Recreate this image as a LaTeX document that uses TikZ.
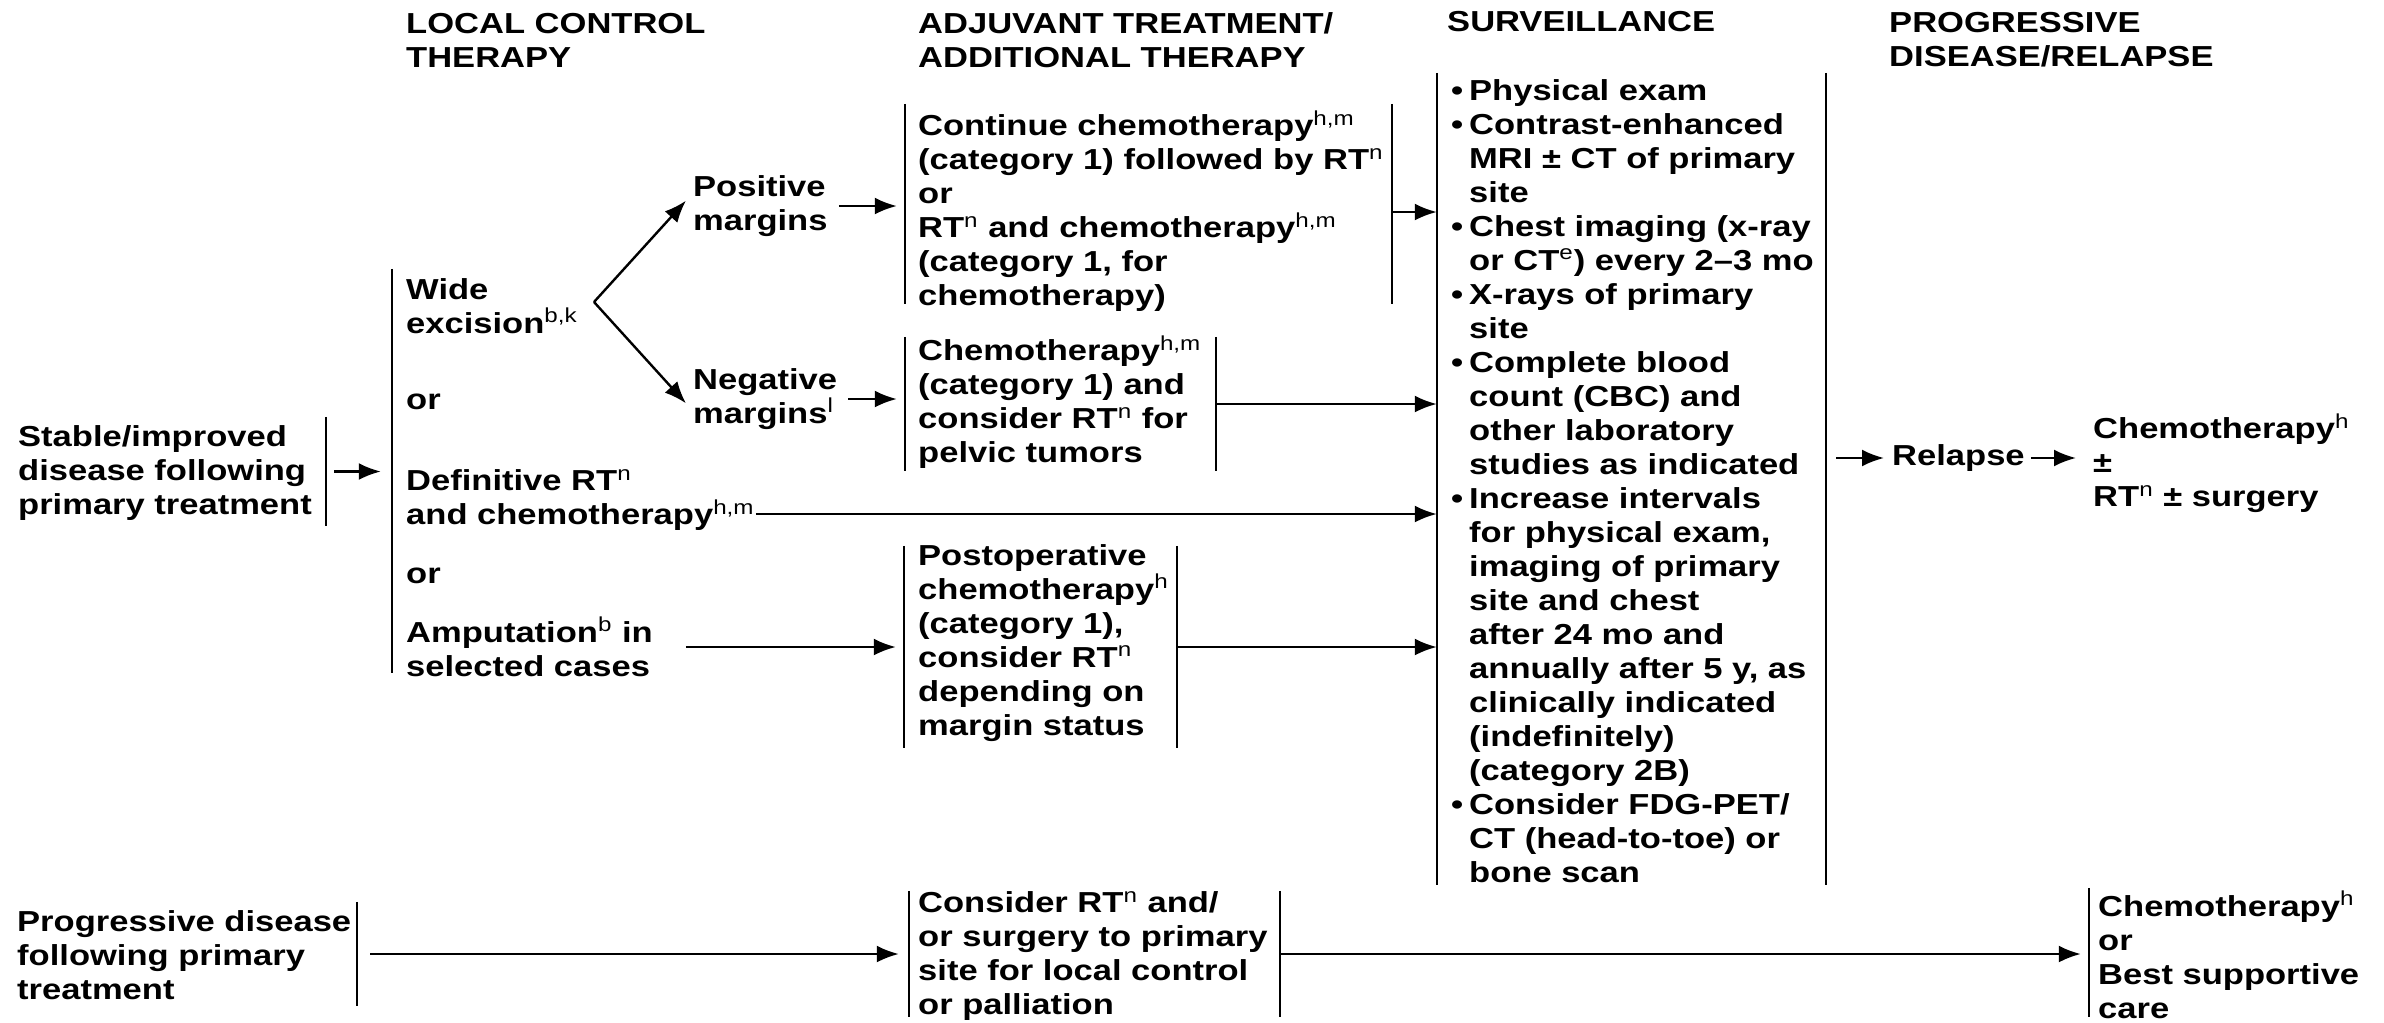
\documentclass[tikz,border=0pt]{standalone}
\usepackage{fontspec}
\setmainfont{Liberation Sans}[FakeStretch=1.195]
\usepackage{tikz}
\usetikzlibrary{arrows.meta}
\newcommand{\sps}[1]{\textsuperscript{\mdseries #1}}
\newcommand{\bul}{\makebox[0pt][r]{\textbullet\hspace{3pt}}}

\begin{document}
\begin{tikzpicture}[x=0.5pt,y=-0.5pt,line width=1.2pt,
	txt/.style={anchor=west,align=left,inner sep=0pt,font=\bfseries\fontsize{14.45pt}{17pt}\selectfont},
	frm/.style={inner sep=0pt,draw=none},
	arr/.style={-{Latex[length=11pt,width=8.5pt]}}]
			\useasboundingbox (0,0) rectangle (2384,1023);
			\node[txt] (h1) at (405,40) {LOCAL CONTROL\\THERAPY};
			\node[txt] (h2) at (917,40) {ADJUVANT TREATMENT/\\ADDITIONAL THERAPY};
			\node[txt] (h3) at (1446,22) {SURVEILLANCE};
			\node[txt] (h4) at (1888,40) {PROGRESSIVE\\DISEASE/RELAPSE};
			\node[frm,minimum width=160pt,minimum height=53.5pt] (stf) at (165,471.5) {};
			\node[frm,minimum width=190pt,minimum height=201pt] (lct) at (583,471) {};
			\node[frm,minimum width=242.5pt,minimum height=99pt] (b1) at (1148.5,204) {};
			\node[frm,minimum width=154.5pt,minimum height=66pt] (b2) at (1060.5,404) {};
			\node[frm,minimum width=135.5pt,minimum height=100pt] (b3) at (1040.5,647) {};
			\node[frm,minimum width=193.5pt,minimum height=405pt] (sv) at (1631.5,479) {};
			\node[frm,minimum width=175.5pt,minimum height=51pt] (pdf) at (180.5,954) {};
			\node[frm,minimum width=184.5pt,minimum height=62pt] (b4) at (1094.5,954) {};
			\node[frm,minimum width=145pt,minimum height=63.5pt] (fn) at (2235,952.5) {};
			\node[txt] (st) at (17,473) {Stable/improved\\disease following\\primary treatment};
			\node[txt] (wide) at (405,306) {Wide\\excision\sps{b,k}};
			\node[txt] (or1) at (405,402) {or};
			\node[txt] (defin) at (405,500) {Definitive RT\sps{n}\\and chemotherapy\sps{h,m}};
			\node[txt] (or2) at (405,576) {or};
			\node[txt] (amput) at (405,647) {Amputation\sps{b} in\\selected cases};
			\node[txt] (pos) at (692,206) {Positive\\margins};
			\node[txt] (neg) at (692,399) {Negative\\margins\sps{l}};
			\node[txt] (t1) at (917,211) {Continue chemotherapy\sps{h,m}\\(category 1) followed by RT\sps{n}\\or\\RT\sps{n} and chemotherapy\sps{h,m}\\(category 1, for\\chemotherapy)};
			\node[txt] (t2) at (917,402) {Chemotherapy\sps{h,m}\\(category 1) and\\consider RT\sps{n} for\\pelvic tumors};
			\node[txt] (t3) at (917,643) {Postoperative\\chemotherapy\sps{h}\\(category 1),\\consider RT\sps{n}\\depending on\\margin status};
			\node[txt] (tsv) at (1468,481) {\bul Physical exam\\\bul Contrast-enhanced\\MRI ± CT of primary\\site\\\bul Chest imaging (x-ray\\or CT\sps{e}) every 2--3 mo\\\bul X-rays of primary\\site\\\bul Complete blood\\count (CBC) and\\other laboratory\\studies as indicated\\\bul Increase intervals\\for physical exam,\\imaging of primary\\site and chest\\after 24 mo and\\annually after 5 y, as\\clinically indicated\\(indefinitely)\\(category 2B)\\\bul Consider FDG-PET/\\CT (head-to-toe) or\\bone scan};
			\node[txt] (rel) at (1891,458) {Relapse};
			\node[txt] (chemo) at (2092,463) {Chemotherapy\sps{h}\\±\\RT\sps{n} ± surgery};
			\node[txt] (prog) at (16,955) {Progressive disease\\following primary\\treatment};
			\node[txt] (t4) at (917,956) {Consider RT\sps{n} and/\\or surgery to primary\\site for local control\\or palliation};
			\node[txt] (tfn) at (2097,955) {Chemotherapy\sps{h}\\or\\Best supportive\\care};
			\coordinate (br) at (594,302);
			\draw (stf.north east) -- (stf.south east);
			\draw (lct.north west) -- (lct.south west);
			\draw (b1.north west) -- (b1.south west) (b1.north east) -- (b1.south east);
			\draw (b2.north west) -- (b2.south west) (b2.north east) -- (b2.south east);
			\draw (b3.north west) -- (b3.south west) (b3.north east) -- (b3.south east);
			\draw (sv.north west) -- (sv.south west) (sv.north east) -- (sv.south east);
			\draw (pdf.north east) -- (pdf.south east);
			\draw (b4.north west) -- (b4.south west) (b4.north east) -- (b4.south east);
			\draw (fn.north west) -- (fn.south west);
			\draw[arr,shorten <=4pt,shorten >=5.5pt] (stf.east) -- (stf.east -| lct.west);
			\draw[arr,shorten >=4.5pt] (br) -- ([yshift=6pt]pos.west);
			\draw[arr,shorten >=4.5pt] (br) -- ([yshift=-5.5pt]neg.west);
			\draw[arr,shorten <=5pt,shorten >=4pt] (pos.east) -- (pos.east -| b1.west);
			\draw[arr,shorten <=5pt,shorten >=4pt] (neg.east) -- (neg.east -| b2.west);
			\draw[arr] ([yshift=-4pt]b1.east) -- ([yshift=-4pt]b1.east -| sv.west);
			\draw[arr] (b2.east) -- (b2.east -| sv.west);
			\draw[arr] ([yshift=-7pt]defin.east) -- ([yshift=-7pt]defin.east -| sv.west);
			\draw[arr,shorten <=16pt,shorten >=4pt] (amput.east) -- (amput.east -| b3.west);
			\draw[arr] (b3.east) -- (b3.east -| sv.west);
			\draw[arr,shorten <=5pt,shorten >=3.5pt] (sv.east |- rel.west) -- (rel.west);
			\draw[arr,shorten <=2.5pt,shorten >=8pt] (rel.east) -- (rel.east -| chemo.west);
			\draw[arr,shorten <=6.5pt,shorten >=5pt] (pdf.east) -- (pdf.east -| b4.west);
			\draw[arr,shorten >=4pt] (b4.east) -- (b4.east -| fn.west);
		\end{tikzpicture}
\end{document}
